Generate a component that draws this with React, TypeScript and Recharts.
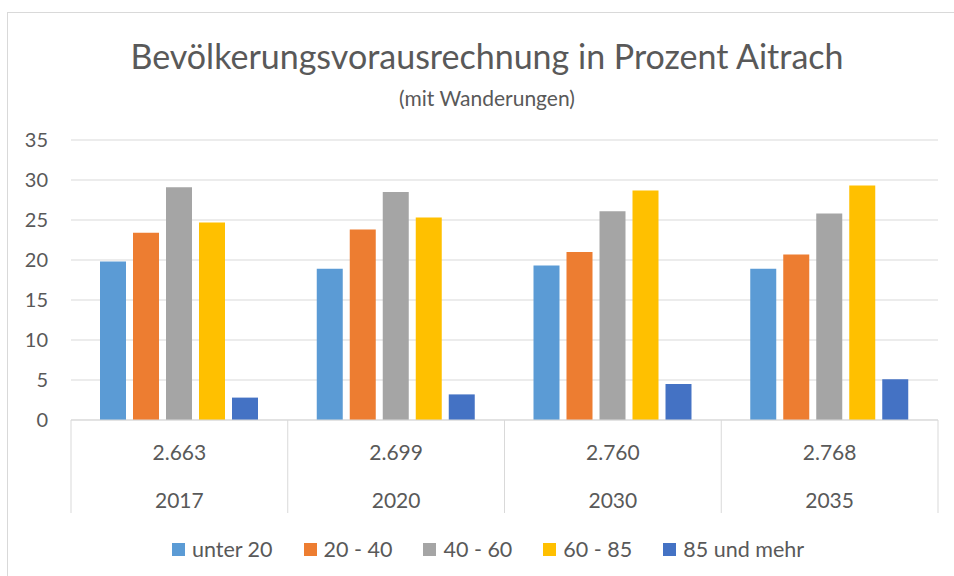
import React from "react";
import {
  BarChart,
  Bar,
  XAxis,
  YAxis,
  CartesianGrid,
  Legend,
} from "recharts";

// Werte
const years = ["2017", "2020", "2030", "2035"];
const population = ["2.663", "2.699", "2.760", "2.768"];
const unter20 = [19.8, 18.9, 19.3, 18.9];
const age20to40 = [23.4, 23.8, 21.0, 20.7];
const age40to60 = [29.1, 28.5, 26.1, 25.8];
const age60to85 = [24.7, 25.3, 28.7, 29.3];
const age85plus = [2.8, 3.2, 4.5, 5.1];
const yTicks = [0, 5, 10, 15, 20, 25, 30, 35];

const series = [
  { key: "u20", name: "unter 20", values: unter20, color: "#5B9BD5" },
  { key: "a20", name: "20 - 40", values: age20to40, color: "#ED7D31" },
  { key: "a40", name: "40 - 60", values: age40to60, color: "#A5A5A5" },
  { key: "a60", name: "60 - 85", values: age60to85, color: "#FFC000" },
  { key: "a85", name: "85 und mehr", values: age85plus, color: "#4472C4" },
];

const data = years.map((year, i) => {
  const row: Record<string, string | number> = { year, pop: population[i] };
  series.forEach((s) => {
    row[s.key] = s.values[i];
  });
  return row;
});

const FONT = "Lato, 'Open Sans', sans-serif";
const TEXT = "#595959";
const LINE = "#d9d9d9";

function CategoryTick(props: any) {
  const { x, y, payload, index } = props;
  const half = payload && payload.offset ? payload.offset : 108;
  const isLast = index === years.length - 1;
  return (
    <g>
      <line x1={x - half} x2={x - half} y1={y} y2={y + 93} stroke={LINE} strokeWidth={1} />
      {isLast && (
        <line x1={x + half} x2={x + half} y1={y} y2={y + 93} stroke={LINE} strokeWidth={1} />
      )}
      <text x={x} y={y + 31} textAnchor="middle" dominantBaseline="central" fill={TEXT} fontSize={21} fontFamily={FONT}>
        {population[index]}
      </text>
      <text x={x} y={y + 79} textAnchor="middle" dominantBaseline="central" fill={TEXT} fontSize={21} fontFamily={FONT}>
        {payload.value}
      </text>
    </g>
  );
}

function LegendContent(props: any) {
  const items = [...(props.payload || [])].sort(
    (a: any, b: any) =>
      series.findIndex((s) => s.key === a.dataKey) - series.findIndex((s) => s.key === b.dataKey)
  );
  return (
    <div style={{ display: "flex", justifyContent: "center", alignItems: "center", fontFamily: FONT }}>
      {items.map((item: any, i: number) => (
        <div key={i} style={{ display: "flex", alignItems: "center", marginLeft: i === 0 ? 0 : 31 }}>
          <span style={{ width: 13, height: 13, background: item.color, display: "inline-block" }} />
          <span style={{ marginLeft: 7, fontSize: 21.5, color: TEXT, lineHeight: "24px" }}>{item.value}</span>
        </div>
      ))}
    </div>
  );
}

export default function App() {
  return (
    <div
      style={{
        position: "absolute",
        left: 0,
        top: 0,
        width: 954,
        height: 576,
        overflow: "hidden",
        background: "#fff",
        fontFamily: FONT,
      }}
    >
      <div
        style={{
          position: "absolute",
          left: 7,
          top: 12,
          width: 1000,
          height: 700,
          border: `1px solid ${LINE}`,
        }}
      />
      <div
        style={{
          position: "absolute",
          left: 7,
          width: 960,
          top: 34,
          textAlign: "center",
          fontSize: 34,
          color: TEXT,
          lineHeight: "44px",
        }}
      >
        Bevölkerungsvorausrechnung in Prozent Aitrach
      </div>
      <div
        style={{
          position: "absolute",
          left: 7,
          width: 960,
          top: 84,
          textAlign: "center",
          fontSize: 21,
          color: TEXT,
          lineHeight: "28px",
        }}
      >
        (mit Wanderungen)
      </div>
      <div style={{ position: "absolute", left: 0, top: 0 }}>
        <BarChart
          width={954}
          height={576}
          data={data}
          margin={{ top: 140, right: 16, left: 0, bottom: 61 }}
          barSize={26}
          barGap={7}
        >
          <CartesianGrid vertical={false} stroke={LINE} strokeWidth={1} />
          <XAxis
            dataKey="year"
            height={95}
            axisLine={{ stroke: LINE }}
            tickLine={false}
            tickSize={0}
            tickMargin={0}
            interval={0}
            tick={<CategoryTick />}
          />
          <YAxis
            width={71}
            domain={[0, 35]}
            ticks={yTicks}
            axisLine={false}
            tickLine={false}
            tickSize={0}
            tickMargin={23}
            tick={{ fill: TEXT, fontSize: 20, fontFamily: FONT }}
          />
          <Legend
            layout="horizontal"
            verticalAlign="middle"
            align="center"
            wrapperStyle={{ top: 537, left: 0, width: 976 }}
            content={<LegendContent />}
          />
          {series.map((s) => (
            <Bar key={s.key} dataKey={s.key} name={s.name} fill={s.color} isAnimationActive={false} />
          ))}
        </BarChart>
      </div>
    </div>
  );
}
